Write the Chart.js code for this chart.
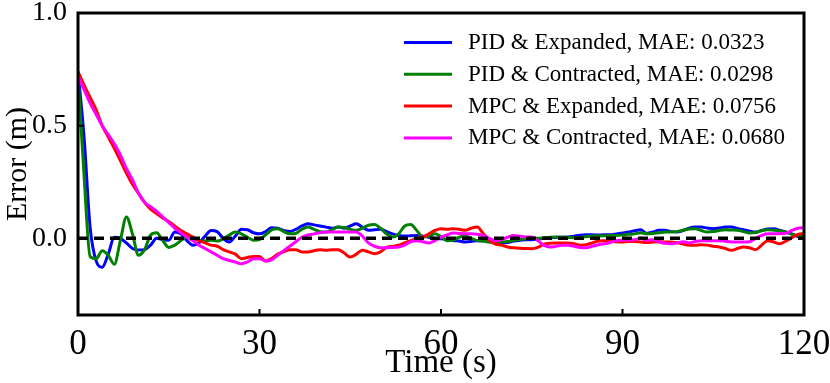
<!DOCTYPE html>
<html>
<head>
<meta charset="utf-8">
<script src="https://cdn.jsdelivr.net/npm/chart.js@4"></script>
<style>
  html, body { margin: 0; padding: 0; background: #fff; }
  #wrap { width: 830px; height: 383px; }
</style>
</head>
<body>
<div id="wrap"><canvas id="chart" width="830" height="383"></canvas></div>
<script>
// sampling grid (s)
const timeStart = 0;
const timeEnd = 120;
const xTicks = [0, 30, 60, 90, 120];
const yTicks = [0.0, 0.5, 1.0];

const labels = [
    'PID & Expanded, MAE: 0.0323',
    'PID & Contracted, MAE: 0.0298',
    'MPC & Expanded, MAE: 0.0756',
    'MPC & Contracted, MAE: 0.0680'
];

const pidExpanded = [
    0.74, 0.45, 0.05, -0.10, -0.128, -0.07, 0.005, 0.0, -0.02, -0.045,
    -0.052, -0.05, -0.03, 0.0, -0.005, -0.008, 0.028, 0.02, -0.01, -0.03,
    -0.02, 0.01, 0.035, 0.03, 0.0, -0.016, 0.01, 0.04, 0.038, 0.025,
    0.02, 0.03, 0.047, 0.045, 0.035, 0.03, 0.04, 0.055, 0.065, 0.06,
    0.055, 0.05, 0.045, 0.05, 0.045, 0.055, 0.065, 0.05, 0.036, 0.038,
    0.04, 0.03, 0.02, 0.013, 0.01, 0.012, 0.013, 0.01, 0.005, 0.0,
    -0.002, -0.005, -0.01, -0.012, -0.016, -0.014, -0.01, -0.01, -0.015, -0.018,
    -0.02, -0.018, -0.012, -0.008, -0.006, -0.006, -0.004, 0.0, 0.003, 0.004,
    0.005, 0.006, 0.01, 0.014, 0.016, 0.016, 0.015, 0.016, 0.016, 0.02,
    0.024, 0.028, 0.034, 0.038, 0.022, 0.028, 0.036, 0.036, 0.03, 0.028,
    0.035, 0.045, 0.05, 0.05, 0.046, 0.043, 0.046, 0.05, 0.05, 0.044,
    0.038, 0.032, 0.028, 0.035, 0.042, 0.043, 0.035, 0.028, 0.02, 0.008,
    0.003
];

const pidContracted = [
    0.72, 0.28, -0.08, -0.09, -0.055, -0.075, -0.115, -0.01, 0.095, 0.02,
    -0.075, -0.05, 0.015, 0.025, -0.01, -0.04, -0.03, -0.01, 0.006, 0.0,
    -0.01, -0.012, -0.008, -0.012, -0.002, 0.015, 0.028, 0.02, 0.005, -0.008,
    -0.005, 0.015, 0.038, 0.043, 0.03, 0.02, 0.022, 0.04, 0.05, 0.04,
    0.03, 0.028, 0.038, 0.05, 0.048, 0.04, 0.036, 0.045, 0.058, 0.062,
    0.045, 0.02, 0.006, 0.02, 0.055, 0.062, 0.035, 0.006, 0.01, 0.02,
    0.008, -0.01, -0.008, 0.005, 0.01, 0.0, -0.01, -0.012, -0.016, -0.016,
    -0.016, -0.014, -0.008, -0.005, -0.002, 0.0, 0.0, 0.002, 0.005, 0.006,
    0.005, 0.004, 0.003, 0.005, 0.008, 0.01, 0.01, 0.012, 0.013, 0.013,
    0.015, 0.018, 0.02, 0.025, 0.02, 0.022, 0.025, 0.028, 0.028, 0.03,
    0.036, 0.042, 0.043, 0.035, 0.028, 0.03, 0.035, 0.038, 0.037, 0.036,
    0.03, 0.024, 0.026, 0.034, 0.038, 0.036, 0.033, 0.028, 0.018, 0.012,
    0.01
];

const mpcExpanded = [
    0.74, 0.68, 0.625, 0.57, 0.50, 0.45, 0.40, 0.345, 0.29, 0.24,
    0.20, 0.16, 0.13, 0.11, 0.09, 0.075, 0.055, 0.035, 0.02, 0.006,
    -0.01, -0.02, -0.03, -0.035, -0.05, -0.06, -0.07, -0.09, -0.085, -0.08,
    -0.08, -0.1, -0.09, -0.07, -0.06, -0.05, -0.05, -0.06, -0.06, -0.055,
    -0.05, -0.053, -0.05, -0.05, -0.065, -0.083, -0.07, -0.053, -0.06, -0.068,
    -0.06, -0.04, -0.035, -0.03, -0.02, -0.01, 0.0, 0.006, 0.02, 0.035,
    0.043, 0.04, 0.043, 0.04, 0.036, 0.045, 0.05, 0.02, -0.01, -0.025,
    -0.03, -0.038, -0.042, -0.044, -0.045, -0.046, -0.04, -0.026, -0.022, -0.02,
    -0.02, -0.02, -0.024, -0.03, -0.028, -0.02, -0.012, -0.01, -0.012, -0.015,
    -0.016, -0.014, -0.014, -0.016, -0.018, -0.016, -0.015, -0.016, -0.016, -0.02,
    -0.025, -0.03, -0.03, -0.028, -0.03, -0.035, -0.038, -0.045, -0.053, -0.045,
    -0.038, -0.042, -0.05, -0.03, -0.01, -0.016, -0.024, -0.012, 0.003, 0.018,
    0.022
];

const mpcContracted = [
    0.72, 0.66, 0.60, 0.55, 0.50, 0.46, 0.42, 0.37, 0.31, 0.26,
    0.20, 0.16, 0.14, 0.12, 0.095, 0.07, 0.045, 0.025, 0.005, -0.01,
    -0.03, -0.045, -0.06, -0.075, -0.09, -0.098, -0.105, -0.113, -0.105, -0.09,
    -0.09, -0.1, -0.095, -0.075, -0.055, -0.035, -0.015, 0.005, 0.015, 0.02,
    0.025, 0.028, 0.028, 0.028, 0.028, 0.028, 0.028, 0.01, -0.02, -0.035,
    -0.042, -0.042, -0.04, -0.038, -0.03, -0.015, -0.01, -0.015, -0.02, -0.01,
    0.006, 0.015, 0.024, 0.022, 0.02, 0.02, 0.018, 0.013, 0.0, -0.01,
    -0.005, 0.005, 0.013, 0.01, 0.006, 0.006, -0.01, -0.03, -0.038, -0.035,
    -0.03, -0.03, -0.035, -0.04, -0.042, -0.035, -0.028, -0.024, -0.018, -0.01,
    -0.008, -0.007, -0.006, 0.0, -0.008, -0.006, -0.015, -0.022, -0.024, -0.02,
    -0.015, -0.02, -0.014, -0.01, -0.01, -0.01, -0.01, -0.013, -0.016, -0.016,
    -0.016, -0.015, 0.0, 0.013, 0.02, 0.02, 0.022, 0.023, 0.035, 0.045,
    0.047
];

const colors = ['#0000ff', '#008000', '#ff0000', '#ff00ff'];

const FONT = "'Liberation Serif', 'Times New Roman', serif";

function toPoints(values) {
    return values.map((v, i) => ({ x: timeStart + i, y: v }));
}

// frame + inward ticks
const framePlugin = {
    id: 'frame',
    afterDraw(chart) {
        const { ctx, chartArea: a, scales } = chart;
        ctx.save();
        ctx.strokeStyle = '#000';
        ctx.lineWidth = 3;
        ctx.strokeRect(a.left, a.top, a.right - a.left, a.bottom - a.top);
        ctx.lineWidth = 2;
        ctx.beginPath();
        [30, 60, 90].forEach(v => {
            const x = scales.x.getPixelForValue(v);
            ctx.moveTo(x, a.bottom);
            ctx.lineTo(x, a.bottom - 6);
        });
        [0.0, 0.5].forEach(v => {
            const y = scales.y.getPixelForValue(v);
            ctx.moveTo(a.left, y);
            ctx.lineTo(a.left + 6, y);
        });
        ctx.stroke();
        ctx.restore();
    }
};

// legend inside the plot
const legendPlugin = {
    id: 'innerLegend',
    afterDraw(chart) {
        const { ctx } = chart;
        ctx.save();
        ctx.font = '23px ' + FONT;
        ctx.textBaseline = 'middle';
        ctx.textAlign = 'left';
        let row = 0;
        chart.data.datasets.forEach(ds => {
            if (!ds.inLegend) return;
            const y = 42.5 + row * 31.8;
            ctx.strokeStyle = ds.borderColor;
            ctx.lineWidth = 3;
            ctx.beginPath();
            ctx.moveTo(404, y);
            ctx.lineTo(452, y);
            ctx.stroke();
            ctx.fillStyle = '#000';
            ctx.fillText(ds.label, 468, y + 0.5);
            row++;
        });
        ctx.restore();
    }
};

const series = [pidExpanded, pidContracted, mpcExpanded, mpcContracted];
const lineOrder = [4, 3, 2, 1];

const datasets = series.map((s, i) => ({
    label: labels[i],
    data: toPoints(s),
    borderColor: colors[i],
    borderWidth: 3,
    pointRadius: 0,
    cubicInterpolationMode: 'monotone',
    order: lineOrder[i],
    inLegend: true
}));

datasets.push({
    label: 'zero',
    data: [{ x: timeStart, y: 0 }, { x: timeEnd, y: 0 }],
    borderColor: '#000',
    borderWidth: 3.5,
    borderDash: [10, 6],
    pointRadius: 0,
    order: 0,
    inLegend: false
});

new Chart(document.getElementById('chart'), {
    type: 'line',
    data: { datasets },
    options: {
        responsive: false,
        animation: false,
        events: [],
        layout: {
            autoPadding: false,
            padding: { top: 13, right: 26, left: 0, bottom: 0 }
        },
        plugins: {
            legend: { display: false },
            tooltip: { enabled: false }
        },
        scales: {
            x: {
                type: 'linear',
                min: timeStart,
                max: timeEnd,
                grid: { display: false },
                border: { display: false },
                afterBuildTicks: s => { s.ticks = xTicks.map(v => ({ value: v })); },
                afterFit: s => {
                    s.height = 68;
                    s.paddingLeft = 0;
                    s.paddingRight = 0;
                },
                ticks: {
                    color: '#000',
                    padding: 1,
                    maxRotation: 0,
                    font: { family: FONT, size: 35 }
                },
                title: {
                    display: true,
                    text: 'Time (s)',
                    color: '#000',
                    padding: { top: 0, bottom: 0 },
                    font: { family: FONT, size: 33 }
                }
            },
            y: {
                min: -0.34,
                max: 1.0,
                grid: { display: false },
                border: { display: false },
                afterBuildTicks: s => { s.ticks = yTicks.map(v => ({ value: v })); },
                afterFit: s => {
                    s.width = 78;
                    s.paddingTop = 0;
                    s.paddingBottom = 0;
                },
                ticks: {
                    color: '#000',
                    padding: 3,
                    font: { family: FONT, size: 28 },
                    callback: v => v.toFixed(1)
                },
                title: {
                    display: true,
                    text: 'Error (m)',
                    color: '#000',
                    padding: { top: 0, bottom: 0 },
                    font: { family: FONT, size: 30 }
                }
            }
        }
    },
    plugins: [framePlugin, legendPlugin]
});
</script>
</body>
</html>
